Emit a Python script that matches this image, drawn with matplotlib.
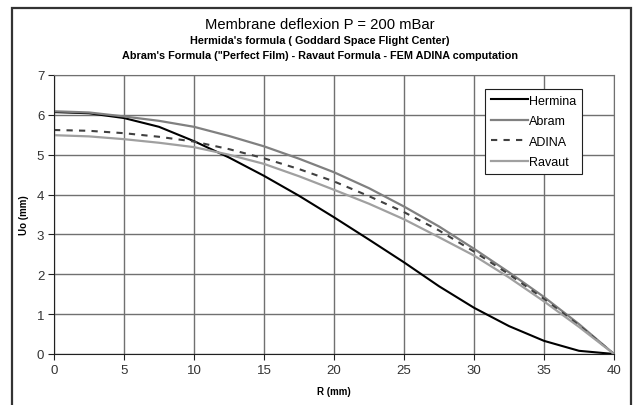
import matplotlib
matplotlib.use("Agg")
import matplotlib.pyplot as plt
from matplotlib.patches import Rectangle

plt.rcParams['font.family'] = ['Liberation Sans', 'DejaVu Sans']

# radius (mm) and deflexion (mm)
r = [0, 2.5, 5, 7.5, 10, 12.5, 15, 17.5, 20, 22.5, 25, 27.5, 30, 32.5, 35, 37.5, 40]
hermina = [6.07, 6.04, 5.92, 5.70, 5.34, 4.93, 4.47, 3.97, 3.43, 2.87, 2.30, 1.70, 1.16, 0.70, 0.33, 0.08, 0.0]
abram = [6.09, 6.06, 5.96, 5.85, 5.70, 5.47, 5.21, 4.90, 4.56, 4.16, 3.70, 3.20, 2.64, 2.05, 1.43, 0.75, 0.0]
adina = [5.62, 5.60, 5.54, 5.45, 5.33, 5.14, 4.91, 4.64, 4.33, 3.96, 3.56, 3.10, 2.57, 2.00, 1.38, 0.72, 0.0]
ravaut = [5.49, 5.46, 5.39, 5.30, 5.19, 5.00, 4.77, 4.46, 4.12, 3.77, 3.38, 2.93, 2.47, 1.92, 1.32, 0.68, 0.0]

x_ticks = [0, 5, 10, 15, 20, 25, 30, 35, 40]
y_ticks = [0, 1, 2, 3, 4, 5, 6, 7]

W, H = 637, 406
fig = plt.figure(figsize=(W / 100, H / 100), dpi=100)
ax = fig.add_axes([54 / W, 51 / H, 560 / W, 279 / H])

# outer chart frame
fig.patches.append(Rectangle((12 / W, -0.05), 619 / W, (H - 9) / H + 0.05,
                             transform=fig.transFigure, fill=False,
                             edgecolor='#333333', linewidth=1.6))

ax.plot(r, hermina, color='black', lw=1.5, label='Hermina')
ax.plot(r, abram, color='#808080', lw=1.6, label='Abram')
ax.plot(r, adina, color='#404040', lw=1.5, ls=(0, (3, 3)), label='ADINA')
ax.plot(r, ravaut, color='#a0a0a0', lw=1.6, label='Ravaut')

ax.set_xlim(0, 40)
ax.set_ylim(0, 7)
ax.set_xticks(x_ticks)
ax.set_yticks(y_ticks)
ax.grid(True, color='#707070', lw=1.0)
ax.set_axisbelow(True)
for s in ['top', 'right']:
    ax.spines[s].set_color('#707070')
for s in ['left', 'bottom']:
    ax.spines[s].set_color('#202020')
ax.tick_params(direction='out', length=4, width=0.8, color='#202020',
               labelsize=9.5, labelcolor='#333333', pad=3)

fig.text(334 / W, 1 - 392 / H, 'R (mm)', ha='center', va='center',
         fontsize=7, fontweight='bold')
fig.text(24 / W, 1 - 215 / H, 'Uo (mm)', ha='center', va='center',
         fontsize=7, fontweight='bold', rotation=90)

fig.text(320 / W, 1 - 25 / H, 'Membrane deflexion P = 200 mBar',
         ha='center', va='center', fontsize=10.6)
fig.text(320 / W, 1 - 41 / H, "Hermida's formula ( Goddard Space Flight Center)",
         ha='center', va='center', fontsize=7.8, fontweight='bold')
fig.text(320 / W, 1 - 56 / H,
         'Abram\'s Formula ("Perfect Film) - Ravaut Formula - FEM ADINA computation',
         ha='center', va='center', fontsize=7.8, fontweight='bold')

leg = ax.legend(loc='upper left', bbox_to_anchor=(485 / W, 1 - 90 / H),
                bbox_transform=fig.transFigure, fontsize=9, handlelength=3,
                handletextpad=0.1, borderpad=0.45, labelspacing=0.68,
                fancybox=False, framealpha=1, borderaxespad=0)
leg.get_frame().set_edgecolor('#202020')
leg.get_frame().set_linewidth(0.8)

fig.savefig('out.png', dpi=100)
